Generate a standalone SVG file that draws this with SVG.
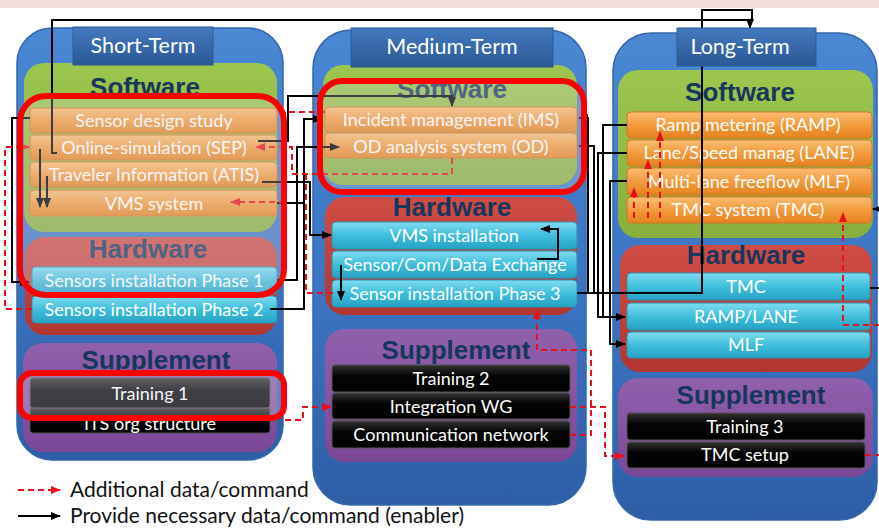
<svg xmlns="http://www.w3.org/2000/svg" width="879" height="529" viewBox="0 0 879 529">
<defs>
<linearGradient id="gBlue" x1="0" y1="0" x2="0" y2="1"><stop offset="0" stop-color="#4a88d4"/><stop offset="0.6" stop-color="#3a72bf"/><stop offset="1" stop-color="#2d5ea6"/></linearGradient>
<linearGradient id="gTitle" x1="0" y1="0" x2="0" y2="1"><stop offset="0" stop-color="#4479bf"/><stop offset="1" stop-color="#2b5894"/></linearGradient>
<linearGradient id="gGreen" x1="0" y1="0" x2="0" y2="1"><stop offset="0" stop-color="#9cc64d"/><stop offset="1" stop-color="#88ae3d"/></linearGradient>
<linearGradient id="gRed" x1="0" y1="0" x2="0" y2="1"><stop offset="0" stop-color="#d04d45"/><stop offset="1" stop-color="#b13530"/></linearGradient>
<linearGradient id="gPurple" x1="0" y1="0" x2="0" y2="1"><stop offset="0" stop-color="#9160ad"/><stop offset="1" stop-color="#7a4896"/></linearGradient>
<linearGradient id="gOrange" x1="0" y1="0" x2="0" y2="1"><stop offset="0" stop-color="#fbbd72"/><stop offset="0.5" stop-color="#f39b3e"/><stop offset="1" stop-color="#e5821f"/></linearGradient>
<linearGradient id="gCyan" x1="0" y1="0" x2="0" y2="1"><stop offset="0" stop-color="#7fdcf0"/><stop offset="0.5" stop-color="#40bedc"/><stop offset="1" stop-color="#26a2c4"/></linearGradient>
<linearGradient id="gBlack" x1="0" y1="0" x2="0" y2="1"><stop offset="0" stop-color="#333"/><stop offset="0.4" stop-color="#050505"/><stop offset="1" stop-color="#000"/></linearGradient>
<marker id="ab" viewBox="0 0 10 10" refX="9" refY="5" markerWidth="10" markerHeight="10" markerUnits="userSpaceOnUse" orient="auto"><path d="M0,1 L10,5 L0,9 z" fill="#000"/></marker>
<marker id="ar" viewBox="0 0 10 10" refX="9" refY="5" markerWidth="10" markerHeight="10" markerUnits="userSpaceOnUse" orient="auto"><path d="M0,1 L10,5 L0,9 z" fill="#e8101a"/></marker>
<style>
.col{fill:url(#gBlue);stroke:#3567a8;stroke-width:1.5}
.ttl{fill:url(#gTitle);stroke:#2d5a96;stroke-width:1}
.sw{fill:url(#gGreen)}
.hw{fill:url(#gRed)}
.sp{fill:url(#gPurple)}
.ob{fill:url(#gOrange);stroke:#d2761e;stroke-width:1}
.cb{fill:url(#gCyan);stroke:#2795b5;stroke-width:1}
.bb{fill:url(#gBlack);stroke:#555;stroke-width:1}
.bt{font-family:Lato,"Liberation Sans",sans-serif;font-size:18px;fill:#fff;text-anchor:middle}
.tt{font-family:Lato,"Liberation Sans",sans-serif;font-size:21.5px;fill:#fff;text-anchor:middle}
.hd{font-family:"Liberation Sans",Arial,sans-serif;font-weight:bold;font-size:26px;fill:#17365d;text-anchor:middle}
.lg{font-family:Lato,"Liberation Sans",sans-serif;font-size:21px;fill:#111}
.blk{fill:none;stroke:#000;stroke-width:2}
.red{fill:none;stroke:#e8101a;stroke-width:2;stroke-dasharray:6 4}
.hl{fill:#dcdce8;fill-opacity:0.28;stroke:#f00;stroke-width:6}
</style>
</defs>
<rect x="0" y="0" width="879" height="529" fill="#fff"/>
<rect x="0" y="0" width="879" height="8" fill="#f3dcdc"/>

<!-- Short-Term column -->
<g id="short-term">
<rect class="col" x="17" y="28" width="266" height="432" rx="35"/>
<g id="st-software"><rect class="sw" x="24" y="63" width="253" height="169" rx="20"/><text class="hd" x="145" y="96">Software</text></g>
<g id="sensor-design"><rect class="ob" x="30" y="108" width="247" height="25" rx="4"/><text class="bt" x="154" y="127">Sensor design study</text></g>
<g id="sep"><rect class="ob" x="30" y="135" width="247" height="25" rx="4"/><text class="bt" x="154" y="154">Online-simulation  (SEP)</text></g>
<g id="atis"><rect class="ob" x="30" y="162" width="247" height="25" rx="4"/><text class="bt" x="154" y="181">Traveler Information (ATIS)</text></g>
<g id="vms-system"><rect class="ob" x="30" y="190" width="247" height="26" rx="4"/><text class="bt" x="154" y="210">VMS system</text></g>
<g id="st-hardware"><rect class="hw" x="25" y="237" width="252" height="98" rx="20"/><text class="hd" x="148" y="258">Hardware</text></g>
<g id="sensors-p1"><rect class="cb" x="32" y="267" width="245" height="27" rx="4"/><text class="bt" x="154" y="287">Sensors installation Phase 1</text></g>
<g id="sensors-p2"><rect class="cb" x="32" y="296" width="245" height="27" rx="4"/><text class="bt" x="154" y="316">Sensors installation Phase 2</text></g>
<g id="st-supplement"><rect class="sp" x="23" y="343" width="254" height="109" rx="20"/><text class="hd" x="156" y="369">Supplement</text></g>
<g id="its-org"><rect class="bb" x="30" y="407" width="240" height="26" rx="3"/><text class="bt" x="150" y="430">ITS org structure</text></g>
<g id="training-1"><rect class="bb" x="30" y="378" width="240" height="30" rx="3"/><text class="bt" x="150" y="400">Training 1</text></g>
</g>

<!-- Medium-Term column -->
<g id="medium-term">
<rect class="col" x="313" y="30" width="273" height="475" rx="38"/>
<g id="mt-software"><rect class="sw" x="323" y="65" width="254" height="120" rx="20"/><text class="hd" x="452" y="98">Software</text></g>
<g id="ims"><rect class="ob" x="325" y="107" width="252" height="25" rx="4"/><text class="bt" x="451" y="126">Incident management (IMS)</text></g>
<g id="od"><rect class="ob" x="325" y="133" width="252" height="25" rx="4"/><text class="bt" x="451" y="153">OD analysis system (OD)</text></g>
<g id="mt-hardware"><rect class="hw" x="325" y="197" width="252" height="118" rx="20"/><text class="hd" x="452" y="216">Hardware</text></g>
<g id="vms-installation"><rect class="cb" x="332" y="222" width="245" height="27" rx="4"/><text class="bt" x="454" y="242">VMS installation</text></g>
<g id="sensor-com"><rect class="cb" x="332" y="251" width="245" height="27" rx="4"/><text class="bt" x="455" y="271">Sensor/Com/Data Exchange</text></g>
<g id="sensor-p3"><rect class="cb" x="332" y="280" width="245" height="27" rx="4"/><text class="bt" x="455" y="300">Sensor installation Phase 3</text></g>
<g id="mt-supplement"><rect class="sp" x="325" y="329" width="252" height="133" rx="20"/><text class="hd" x="456" y="359">Supplement</text></g>
<g id="training-2"><rect class="bb" x="332" y="365" width="238" height="27" rx="3"/><text class="bt" x="451" y="385">Training 2</text></g>
<g id="integration-wg"><rect class="bb" x="332" y="393" width="238" height="26" rx="3"/><text class="bt" x="451" y="413">Integration WG</text></g>
<g id="comm-network"><rect class="bb" x="332" y="421" width="238" height="27" rx="3"/><text class="bt" x="451" y="441">Communication network</text></g>
</g>

<!-- Long-Term column -->
<g id="long-term">
<rect class="col" x="613" y="33" width="264" height="487" rx="38"/>
<g id="lt-software"><rect class="sw" x="618" y="70" width="255" height="168" rx="20"/><text class="hd" x="740" y="101">Software</text></g>
<g id="ramp"><rect class="ob" x="627" y="112" width="245" height="26" rx="4"/><text class="bt" x="748" y="131">Ramp metering (RAMP)</text></g>
<g id="lane"><rect class="ob" x="627" y="140" width="245" height="26" rx="4"/><text class="bt" x="749" y="159">Lane/Speed manag (LANE)</text></g>
<g id="mlf"><rect class="ob" x="627" y="168" width="245" height="27" rx="4"/><text class="bt" x="749" y="188">Multi-lane freeflow (MLF)</text></g>
<g id="tmc-system"><rect class="ob" x="627" y="197" width="245" height="26" rx="4"/><text class="bt" x="748" y="216">TMC system (TMC)</text></g>
<g id="lt-hardware"><rect class="hw" x="620" y="245" width="252" height="127" rx="20"/><text class="hd" x="746" y="264">Hardware</text></g>
<g id="tmc-hw"><rect class="cb" x="627" y="273" width="243" height="27" rx="4"/><text class="bt" x="746" y="293">TMC</text></g>
<g id="ramp-lane-hw"><rect class="cb" x="627" y="303" width="243" height="27" rx="4"/><text class="bt" x="746" y="323">RAMP/LANE</text></g>
<g id="mlf-hw"><rect class="cb" x="627" y="332" width="243" height="26" rx="4"/><text class="bt" x="746" y="351">MLF</text></g>
<g id="lt-supplement"><rect class="sp" x="618" y="378" width="255" height="99" rx="20"/><text class="hd" x="751" y="404">Supplement</text></g>
<g id="training-3"><rect class="bb" x="627" y="413" width="238" height="27" rx="3"/><text class="bt" x="745" y="433">Training 3</text></g>
<g id="tmc-setup"><rect class="bb" x="627" y="442" width="238" height="26" rx="3"/><text class="bt" x="745" y="461">TMC setup</text></g>
</g>

<!-- Connectors -->
<g id="connectors">
<path class="blk" d="M57,153 H52 V20 H750 V28" marker-end="url(#ab)"/>
<path class="blk" d="M577,293 H702 V10 H752 V20"/>
<path class="blk" d="M30,118 H12 V282 H29" marker-end="url(#ab)"/>
<path class="blk" d="M40,149 V207" marker-end="url(#ab)"/>
<path class="blk" d="M47,176 V207" marker-end="url(#ab)"/>
<path class="blk" d="M258,141 H288 V96 H452 V106" marker-end="url(#ab)"/>
<path class="blk" d="M277,280 H297 V147 H339" marker-end="url(#ab)"/>
<path class="blk" d="M262,182 H310 V235 H331" marker-end="url(#ab)"/>
<path class="blk" d="M270,309 H304 V119 H322" marker-end="url(#ab)"/>
<path class="blk" d="M277,203 H304"/>
<path class="blk" d="M537,259 H558 V229 H541" marker-end="url(#ab)"/>
<path class="blk" d="M341,265 V300" marker-end="url(#ab)"/>
<path class="blk" d="M588,293 V118 H579" marker-end="url(#ab)"/>
<path class="blk" d="M594,293 V146 H579" marker-end="url(#ab)"/>
<path class="blk" d="M627,125 H603 V317 H625" marker-end="url(#ab)"/>
<path class="blk" d="M627,153 H598 V317 H603"/>
<path class="blk" d="M627,181 H610 V344 H625" marker-end="url(#ab)"/>
<path class="blk" d="M879,209 H873" marker-end="url(#ab)"/>
<path class="blk" d="M879,288 H870"/>

<path class="red" d="M32,309 H5 V147 H29" marker-end="url(#ar)"/>
<path class="red" d="M452,158 V174 H292 V147 H256" marker-end="url(#ar)"/>
<path class="red" d="M325,112 H285 V202 H231" marker-end="url(#ar)"/>
<path class="red" d="M306,174 V293 H333"/>
<path class="red" d="M570,435 H591 V350 H537 V310" marker-end="url(#ar)"/>
<path class="red" d="M570,407 H605 V456 H624" marker-end="url(#ar)"/>
<path class="red" d="M285,420 H303 V407 H331" marker-end="url(#ar)"/>
<path class="red" d="M634,218 V188" marker-end="url(#ar)"/>
<path class="red" d="M648,218 V160" marker-end="url(#ar)"/>
<path class="red" d="M660,218 V132" marker-end="url(#ar)"/>
<path class="red" d="M879,325 H843 V213" marker-end="url(#ar)"/>
<path class="red" d="M865,455 H879"/>
</g>

<!-- Title boxes -->
<g id="title-short"><rect class="ttl" x="73" y="27" width="140" height="38"/><text class="tt" x="143" y="53">Short-Term</text></g>
<g id="title-medium"><rect class="ttl" x="351" y="28" width="202" height="39"/><text class="tt" x="452" y="54">Medium-Term</text></g>
<g id="title-long"><rect class="ttl" x="677" y="28" width="139" height="38"/><text class="tt" x="740" y="54">Long-Term</text></g>

<!-- Highlights -->
<g id="highlights">
<rect class="hl" x="20" y="96" width="264" height="199" rx="26"/>
<rect class="hl" x="320" y="81" width="264" height="111" rx="22"/>
<rect class="hl" x="20" y="373" width="264" height="45" rx="12"/>
</g>

<!-- Legend -->
<g id="legend">
<path class="red" d="M18,490 H60" marker-end="url(#ar)"/>
<text class="lg" x="70" y="497">Additional data/command</text>
<path class="blk" d="M18,516 H60" marker-end="url(#ab)"/>
<text class="lg" x="70" y="523">Provide necessary data/command (enabler)</text>
</g>
</svg>
